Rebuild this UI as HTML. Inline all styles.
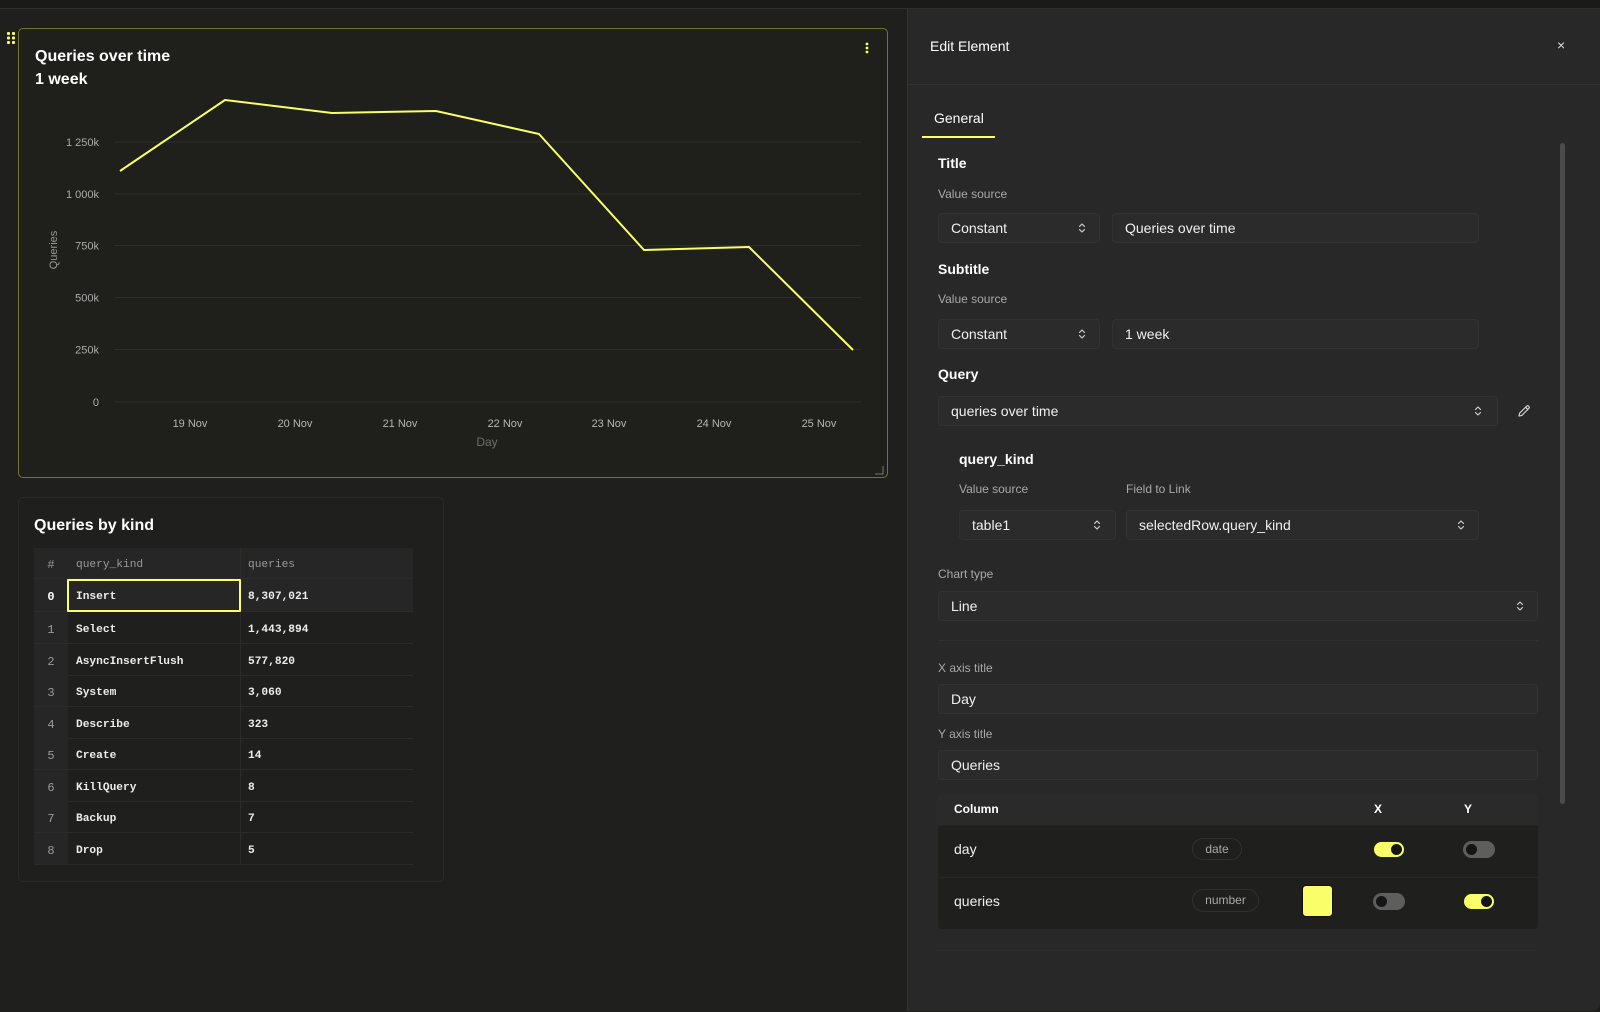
<!DOCTYPE html>
<html><head><meta charset="utf-8">
<style>
*{margin:0;padding:0;box-sizing:border-box}
html,body{width:1600px;height:1012px;overflow:hidden;background:#1f1f1d;font-family:"Liberation Sans",Arial,sans-serif;color:#fff}
.a{position:absolute}
.t{position:absolute;white-space:nowrap;line-height:1}
.lbl{font-size:12px;color:#a8a8a8}
.h{font-size:14px;font-weight:bold;color:#fff}
.box{position:absolute;background:#2b2b2b;border:1px solid #323232;border-radius:4px}
.box span{position:absolute;left:12px;top:50%;transform:translateY(-50%);font-size:14px;color:#f0f0f0;white-space:nowrap}
.chev{position:absolute;top:50%;transform:translateY(-50%);width:8px;height:12px}
.mono{font-family:"Liberation Mono","DejaVu Sans Mono",monospace}
.row{position:absolute;left:34px;width:379px;height:32px;border-bottom:1px solid #2b2b29}
.row .i{position:absolute;left:0;top:0;width:34px;height:100%;background:#262626;text-align:center;font-size:12px;color:#9a9a9a;line-height:32px;padding-top:2px}
.row .k{position:absolute;left:42px;top:2px;line-height:32px;font-size:11.2px;font-weight:bold;color:#ececec}
.row .q{position:absolute;left:214px;top:2px;line-height:32px;font-size:11.2px;font-weight:bold;color:#ececec}
.row .sep{position:absolute;left:206px;top:0;width:1px;height:100%;background:#2b2b29}
.pill{position:absolute;border:1px solid #303030;border-radius:12px;font-size:12px;color:#a8a8a8;text-align:center}
.tog{position:absolute;width:32px;height:17px;border-radius:9px}
.tog i{position:absolute;top:3px;width:11px;height:11px;border-radius:50%;background:#151515}
</style></head><body>

<!-- top bar -->
<div class="a" style="left:0;top:0;width:1600px;height:9px;background:#1a1a18;border-bottom:1px solid #2f2f2d"></div>

<!-- drag handle -->
<svg class="a" style="left:6px;top:31px" width="12" height="14">
<g fill="#faff69"><rect x="1" y="1" width="3" height="3" rx="1"/><rect x="6" y="1" width="3" height="3" rx="1"/><rect x="1" y="5.5" width="3" height="3" rx="1"/><rect x="6" y="5.5" width="3" height="3" rx="1"/><rect x="1" y="10" width="3" height="3" rx="1"/><rect x="6" y="10" width="3" height="3" rx="1"/></g></svg>

<!-- chart card -->
<div class="a" style="left:18px;top:28px;width:870px;height:450px;border:1.5px solid #74742e;border-radius:5px;background:#1f1f1c"></div>
<div class="t" style="left:35px;top:49px;font-size:16px;font-weight:bold">Queries over time</div>
<div class="t" style="left:35px;top:72px;font-size:16px;font-weight:bold">1 week</div>
<svg class="a" style="left:864px;top:42px" width="6" height="12"><g fill="#faff69"><circle cx="3" cy="2" r="1.4"/><circle cx="3" cy="6" r="1.4"/><circle cx="3" cy="10" r="1.4"/></g></svg>

<svg class="a" style="left:0;top:0" width="900" height="480" font-family="Liberation Sans, Arial, sans-serif">
<g stroke="#2e2e2c" stroke-width="1">
<line x1="114" y1="142" x2="861" y2="142"/>
<line x1="114" y1="194" x2="861" y2="194"/>
<line x1="114" y1="245.5" x2="861" y2="245.5"/>
<line x1="114" y1="297.5" x2="861" y2="297.5"/>
<line x1="114" y1="349.5" x2="861" y2="349.5"/>
<line x1="114" y1="402" x2="861" y2="402"/>
</g>
<g font-size="11" fill="#ababab" text-anchor="end">
<text x="99" y="146">1 250k</text>
<text x="99" y="198">1 000k</text>
<text x="99" y="249.5">750k</text>
<text x="99" y="301.5">500k</text>
<text x="99" y="353.5">250k</text>
<text x="99" y="406">0</text>
</g>
<g font-size="11" fill="#b5b5b5" text-anchor="middle">
<text x="190" y="427">19 Nov</text>
<text x="295" y="427">20 Nov</text>
<text x="400" y="427">21 Nov</text>
<text x="505" y="427">22 Nov</text>
<text x="609" y="427">23 Nov</text>
<text x="714" y="427">24 Nov</text>
<text x="819" y="427">25 Nov</text>
</g>
<text x="487" y="446" font-size="12" fill="#6f6f6f" text-anchor="middle">Day</text>
<text transform="translate(57,250) rotate(-90)" font-size="11" fill="#9a9a9a" text-anchor="middle">Queries</text>
<polyline fill="none" stroke="#faff69" stroke-width="2" stroke-linejoin="round" points="120,171 225,100 332,113 436,111 539,134 644,250 749,247 853,350"/>
<path d="M883 466 V474 H875" fill="none" stroke="#777" stroke-width="1"/>
</svg>

<!-- table card -->
<div class="a" style="left:18px;top:497px;width:426px;height:385px;border:1px solid #2b2b29;border-radius:5px;background:#1f1f1d"></div>
<div class="t" style="left:34px;top:518px;font-size:16px;font-weight:bold">Queries by kind</div>

<div class="a" style="left:34px;top:548px;width:379px;height:316px;background:#1f1f1d"></div>
<div class="row" style="top:548px;height:31px;background:#262626">
 <div class="i mono" style="line-height:31px">#</div>
 <div class="k mono" style="line-height:31px;font-weight:normal;color:#9a9a9a">query_kind</div>
 <div class="sep"></div>
 <div class="q mono" style="line-height:31px;font-weight:normal;color:#9a9a9a">queries</div>
</div>
<div class="row mono" style="top:579px;height:33px;background:#262626"><div class="i" style="color:#fff;font-weight:bold;line-height:33px">0</div><div class="sep"></div><div class="k" style="line-height:33px">Insert</div><div class="q" style="line-height:33px">8,307,021</div></div>
<div class="a" style="left:67px;top:579px;width:174px;height:33px;border:2px solid #faff69;border-radius:1px"></div>
<div class="row mono" style="top:612px"><div class="i">1</div><div class="sep"></div><div class="k">Select</div><div class="q">1,443,894</div></div>
<div class="row mono" style="top:643.5px"><div class="i">2</div><div class="sep"></div><div class="k">AsyncInsertFlush</div><div class="q">577,820</div></div>
<div class="row mono" style="top:675px"><div class="i">3</div><div class="sep"></div><div class="k">System</div><div class="q">3,060</div></div>
<div class="row mono" style="top:706.5px"><div class="i">4</div><div class="sep"></div><div class="k">Describe</div><div class="q">323</div></div>
<div class="row mono" style="top:738px"><div class="i">5</div><div class="sep"></div><div class="k">Create</div><div class="q">14</div></div>
<div class="row mono" style="top:769.5px"><div class="i">6</div><div class="sep"></div><div class="k">KillQuery</div><div class="q">8</div></div>
<div class="row mono" style="top:801px"><div class="i">7</div><div class="sep"></div><div class="k">Backup</div><div class="q">7</div></div>
<div class="row mono" style="top:832.5px"><div class="i">8</div><div class="sep"></div><div class="k">Drop</div><div class="q">5</div></div>

<!-- right panel -->
<div class="a" style="left:907px;top:9px;width:693px;height:1002px;background:#282828;border-left:1px solid #333;border-bottom-right-radius:8px"></div>
<div class="a" style="left:908px;top:84px;width:692px;height:1px;background:#313131"></div>
<div class="t" style="left:930px;top:39px;font-size:14px;color:#fff">Edit Element</div>
<div class="t" style="left:1557px;top:38px;font-size:14px;color:#ddd">×</div>
<div class="t" style="left:934px;top:111px;font-size:14px;color:#fff">General</div>
<div class="a" style="left:922px;top:136px;width:73px;height:2px;background:#faff69"></div>
<div class="a" style="left:1560px;top:143px;width:5px;height:661px;background:#4b4b4b;border-radius:3px"></div>

<svg width="0" height="0" style="position:absolute"><defs>
<symbol id="ch" viewBox="0 0 8 12"><path d="M1.5 4.5 L4 2 L6.5 4.5 M1.5 7.5 L4 10 L6.5 7.5" fill="none" stroke="#cfcfcf" stroke-width="1.2" stroke-linecap="round" stroke-linejoin="round"/></symbol>
</defs></svg>

<div class="t h" style="left:938px;top:156px">Title</div>
<div class="t lbl" style="left:938px;top:188px">Value source</div>
<div class="box" style="left:938px;top:213px;width:162px;height:30px"><span>Constant</span><svg class="chev" style="left:139px"><use href="#ch"/></svg></div>
<div class="box" style="left:1112px;top:213px;width:367px;height:30px"><span>Queries over time</span></div>

<div class="t h" style="left:938px;top:262px">Subtitle</div>
<div class="t lbl" style="left:938px;top:293px">Value source</div>
<div class="box" style="left:938px;top:319px;width:162px;height:30px"><span>Constant</span><svg class="chev" style="left:139px"><use href="#ch"/></svg></div>
<div class="box" style="left:1112px;top:319px;width:367px;height:30px"><span>1 week</span></div>

<div class="t h" style="left:938px;top:367px">Query</div>
<div class="box" style="left:938px;top:396px;width:560px;height:30px"><span>queries over time</span><svg class="chev" style="left:535px"><use href="#ch"/></svg></div>
<svg class="a" style="left:1517px;top:404px" width="14" height="14"><path d="M2 12 L2.6 9.2 L9.6 2.2 Q10.6 1.2 11.6 2.2 L11.8 2.4 Q12.8 3.4 11.8 4.4 L4.8 11.4 Z M8.6 3.2 L10.8 5.4" fill="none" stroke="#d0d0d0" stroke-width="1.2" stroke-linejoin="round"/></svg>

<div class="t h" style="left:959px;top:452px">query_kind</div>
<div class="t lbl" style="left:959px;top:483px">Value source</div>
<div class="t lbl" style="left:1126px;top:483px">Field to Link</div>
<div class="box" style="left:959px;top:510px;width:157px;height:30px"><span>table1</span><svg class="chev" style="left:133px"><use href="#ch"/></svg></div>
<div class="box" style="left:1126px;top:510px;width:353px;height:30px"><span>selectedRow.query_kind</span><svg class="chev" style="left:330px"><use href="#ch"/></svg></div>

<div class="t lbl" style="left:938px;top:568px">Chart type</div>
<div class="box" style="left:938px;top:591px;width:600px;height:30px"><span>Line</span><svg class="chev" style="left:577px"><use href="#ch"/></svg></div>
<div class="a" style="left:938px;top:640px;width:600px;height:1px;background:#2f2f2f"></div>

<div class="t lbl" style="left:938px;top:662px">X axis title</div>
<div class="box" style="left:938px;top:684px;width:600px;height:30px"><span>Day</span></div>
<div class="t lbl" style="left:938px;top:728px">Y axis title</div>
<div class="box" style="left:938px;top:750px;width:600px;height:30px"><span>Queries</span></div>

<!-- column table -->
<div class="a" style="left:938px;top:793px;width:600px;height:136px;background:#1f1f1d;border-radius:4px;overflow:hidden">
 <div class="a" style="left:0;top:0;width:600px;height:33px;background:#2a2a2a;border-bottom:1px solid #242424"></div>
 <div class="a" style="left:0;top:84px;width:600px;height:1px;background:#272725"></div>
</div>
<div class="t" style="left:954px;top:803px;font-size:12px;font-weight:bold">Column</div>
<div class="t" style="left:1374px;top:803px;font-size:12px;font-weight:bold">X</div>
<div class="t" style="left:1464px;top:803px;font-size:12px;font-weight:bold">Y</div>

<div class="t" style="left:954px;top:842px;font-size:14px;color:#f0f0f0">day</div>
<div class="pill" style="left:1192px;top:838px;width:50px;height:22px;line-height:20px">date</div>
<div class="tog" style="left:1373px;top:841px;background:#faff69;border:1px solid #222"><i style="left:17px;top:2px"></i></div>
<div class="tog" style="left:1463px;top:841px;background:#5e5e5e"><i style="left:3px"></i></div>

<div class="t" style="left:954px;top:894px;font-size:14px;color:#f0f0f0">queries</div>
<div class="pill" style="left:1192px;top:889px;width:67px;height:23px;line-height:21px">number</div>
<div class="a" style="left:1302px;top:885px;width:31px;height:32px;background:#faff69;border:1px solid #111;border-radius:4px"></div>
<div class="tog" style="left:1373px;top:893px;background:#5e5e5e"><i style="left:3px"></i></div>
<div class="tog" style="left:1463px;top:893px;background:#faff69;border:1px solid #222"><i style="left:17px;top:2px"></i></div>

<div class="a" style="left:938px;top:950px;width:600px;height:1px;background:#2d2d2d"></div>
</body></html>
